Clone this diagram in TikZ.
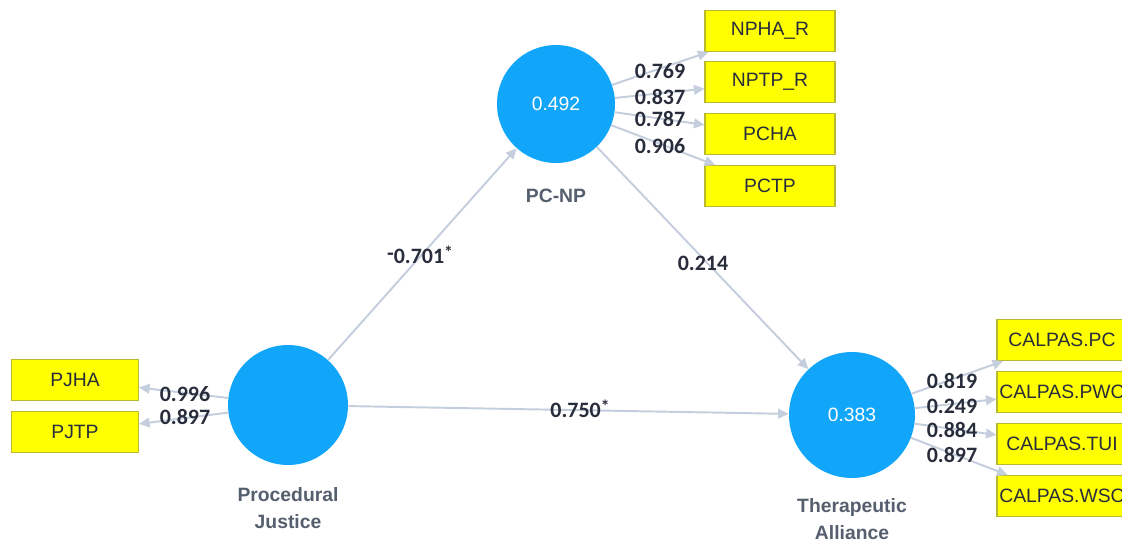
\documentclass[tikz,border=0pt]{standalone}
\usepackage{fontspec}
\setmainfont{Liberation Sans}
\newfontfamily\numfont{Carlito}
\usetikzlibrary{arrows.meta}

\definecolor{lvblue}{RGB}{18,166,250}
\definecolor{boxyellow}{RGB}{255,255,0}
\definecolor{boxedge}{RGB}{185,185,45}
\definecolor{linkgray}{RGB}{196,206,220}
\definecolor{labelgray}{RGB}{85,95,110}
\definecolor{coeftext}{RGB}{40,45,60}

\newcommand{\signif}{\raisebox{3pt}{\fontsize{10}{10}\selectfont *}}

\tikzset{
  latent/.style={circle, fill=lvblue, draw=none, inner sep=0pt, text=white,
    font=\fontsize{11}{13}\selectfont},
  indicator/.style={rectangle, fill=boxyellow, draw=boxedge, line width=0.6pt,
    minimum width=2.6cm, minimum height=0.82cm, inner sep=0pt,
    font=\fontsize{11}{13}\selectfont, text=coeftext},
  link/.style={draw=linkgray, line width=1.1pt, -{Triangle[length=6pt,width=5.5pt]}},
  coef/.style={font=\numfont\bfseries\fontsize{12.5}{14}\selectfont, text=coeftext, inner sep=0pt},
  lvname/.style={font=\bfseries\fontsize{11}{15.3}\selectfont, text=labelgray, align=center},
}

\begin{document}
\begin{tikzpicture}[x=0.02cm, y=-0.02cm]
  \clip (0,0) rectangle (1122,542);
  \fill[white] (0,0) rectangle (1122,542);

  % latent variables
  \node[latent, minimum size=2.36cm] (pcnp) at (556,104) {0.492};
  \node[latent, minimum size=2.40cm] (pj)   at (288,405) {};
  \node[latent, minimum size=2.52cm] (ta)   at (852,415) {0.383};

  \node[lvname] (pcnpname) at (556,196) {PC-NP};
  \node[lvname] (pjname)   at (288,508) {Procedural\\Justice};
  \node[lvname] (taname)   at (852,519) {Therapeutic\\Alliance};

  % indicators of PC-NP
  \node[indicator] (npha) at (770,31)  {NPHA\_R};
  \node[indicator] (nptp) at (770,82)  {NPTP\_R};
  \node[indicator] (pcha) at (770,134) {PCHA};
  \node[indicator] (pctp) at (770,186) {PCTP};

  % indicators of Procedural Justice
  \node[indicator, minimum width=2.54cm] (pjha) at (75,380) {PJHA};
  \node[indicator, minimum width=2.54cm] (pjtp) at (75,432) {PJTP};

  % indicators of Therapeutic Alliance
  \node[indicator] (cpc)  at (1062,340) {CALPAS.PC};
  \node[indicator] (cpwc) at (1062,392) {CALPAS.PWC};
  \node[indicator] (ctui) at (1062,444) {CALPAS.TUI};
  \node[indicator] (cwsc) at (1062,496) {CALPAS.WSC};

  % outer loadings
  \draw[link] (pcnp) -- (npha);
  \draw[link] (pcnp) -- (nptp);
  \draw[link] (pcnp) -- (pcha);
  \draw[link] (pcnp) -- (pctp);
  \draw[link] (pj) -- (pjha);
  \draw[link] (pj) -- (pjtp);
  \draw[link] (ta) -- (cpc);
  \draw[link] (ta) -- (cpwc);
  \draw[link] (ta) -- (ctui);
  \draw[link] (ta) -- (cwsc);

  % structural paths
  \draw[link] (pj) -- (pcnp);
  \draw[link] (pcnp) -- (ta);
  \draw[link] (pj) -- (ta);

  % loading values
  \node[coef] (l1) at (660,71)  {0.769};
  \node[coef] (l2) at (660,97)  {0.837};
  \node[coef] (l3) at (660,119) {0.787};
  \node[coef] (l4) at (660,146) {0.906};
  \node[coef] (l5) at (185,394) {0.996};
  \node[coef] (l6) at (185,417) {0.897};
  \node[coef] (l7) at (952,381) {0.819};
  \node[coef] (l8) at (952,406) {0.249};
  \node[coef] (l9) at (952,430) {0.884};
  \node[coef] (l10) at (952,455) {0.897};

  % path coefficients
  \node[coef] (p1) at (420,255) {\raisebox{1.8pt}{-}0.701\signif};
  \node[coef] (p2) at (703,263) {0.214};
  \node[coef] (p3) at (580,409) {0.750\signif};
\end{tikzpicture}
\end{document}
